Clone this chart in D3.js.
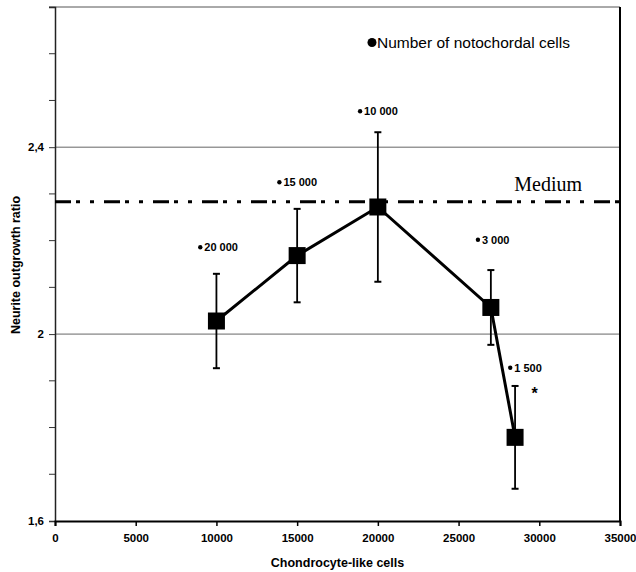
<!DOCTYPE html>
<html>
<head>
<meta charset="utf-8">
<script src="https://cdn.jsdelivr.net/npm/d3@7"></script>
<style>
  body { margin: 0; background: #fff; }
  text { font-family: "Liberation Sans", Arial, sans-serif; }
</style>
</head>
<body>
<div id="screen"></div>
<script>
var width = 636;
var height = 572;
var margin = {top: 7, right: 16, bottom: 51, left: 55};

// data
var cellCounts = [10000, 15000, 20000, 27000, 28500];
var ratios = [2.028, 2.168, 2.272, 2.057, 1.779];
var errors = [0.101, 0.100, 0.160, 0.080, 0.110];
var notochordLabels = ["20 000", "15 000", "10 000", "3 000", "1 500"];
var notochordLabelX = [9000, 13900, 18900, 26200, 28200];
var notochordLabelY = [2.186, 2.325, 2.477, 2.202, 1.928];
var mediumValue = 2.283;
var xTicks = [0, 5000, 10000, 15000, 20000, 25000, 30000, 35000];
var yMajorTicks = [1.6, 2, 2.4];
var yMinorTicks = [1.7, 1.8, 1.9, 2.1, 2.2, 2.3, 2.5, 2.6, 2.7];
var yGridLines = [2, 2.4];

var svg = d3.select("#screen").append("svg")
    .attr("width", width).attr("height", height);

var x = d3.scaleLinear().domain([0, 35000]).range([margin.left, width - margin.right]);
var y = d3.scaleLinear().domain([1.6, 2.7]).range([height - margin.bottom, margin.top]);

// frame + gridlines
svg.append("line")
    .attr("x1", x(0)).attr("x2", x(35000))
    .attr("y1", y(2.7)).attr("y2", y(2.7))
    .attr("stroke", "#555").attr("stroke-width", 1);

svg.selectAll(".grid").data(yGridLines).enter().append("line")
    .attr("class", "grid")
    .attr("x1", x(0)).attr("x2", x(35000))
    .attr("y1", d => y(d)).attr("y2", d => y(d))
    .attr("stroke", "#666").attr("stroke-width", 1);

svg.append("line")
    .attr("x1", x(35000)).attr("x2", x(35000))
    .attr("y1", y(2.7)).attr("y2", y(1.6))
    .attr("stroke", "#000").attr("stroke-width", 2);

// y axis
var yAxis = d3.axisLeft(y).tickValues(yMajorTicks)
    .tickFormat(d => d3.format(".1f")(d).replace(".0", "").replace(".", ","))
    .tickSize(6).tickPadding(5);
var gy = svg.append("g").attr("transform", "translate(" + x(0) + ",0)").call(yAxis);
gy.select(".domain").attr("stroke", "#222").attr("stroke-width", 1.5);
gy.selectAll(".tick line").attr("stroke", "#333");
gy.selectAll(".tick text").attr("font-size", 11.5).attr("font-weight", "bold").attr("fill", "#000");

svg.selectAll(".minor").data(yMinorTicks).enter().append("line")
    .attr("class", "minor")
    .attr("x1", x(0) - 6).attr("x2", x(0))
    .attr("y1", d => y(d)).attr("y2", d => y(d))
    .attr("stroke", "#333").attr("stroke-width", 1);

// x axis
var xAxis = d3.axisBottom(x).tickValues(xTicks).tickFormat(d3.format("d"))
    .tickSize(5).tickPadding(8);
var gx = svg.append("g").attr("transform", "translate(0," + y(1.6) + ")").call(xAxis);
gx.select(".domain").attr("stroke", "#000").attr("stroke-width", 2);
gx.selectAll(".tick line").attr("stroke", "#000").attr("stroke-width", 1.5);
gx.selectAll(".tick text").attr("font-size", 11.5).attr("font-weight", "bold").attr("fill", "#000");

// axis titles
svg.append("text")
    .attr("x", (x(0) + x(35000)) / 2).attr("y", 567)
    .attr("text-anchor", "middle")
    .attr("font-size", 12.5).attr("font-weight", "bold")
    .text("Chondrocyte-like cells");

svg.append("text")
    .attr("transform", "translate(20," + 265 + ") rotate(-90)")
    .attr("text-anchor", "middle")
    .attr("font-size", 12.5).attr("font-weight", "bold")
    .text("Neurite outgrowth ratio");

// medium line
svg.append("line")
    .attr("x1", x(0)).attr("x2", x(35000))
    .attr("y1", y(mediumValue)).attr("y2", y(mediumValue))
    .attr("stroke", "#000").attr("stroke-width", 3)
    .attr("stroke-dasharray", "16,5,4,10,4,10");

svg.append("text")
    .attr("x", 582).attr("y", 190.5)
    .attr("text-anchor", "end")
    .style("font-family", "'Liberation Serif', 'Times New Roman', serif")
    .attr("font-size", 20)
    .text("Medium");

// error bars
var points = cellCounts.map((c, i) => ({x: c, y: ratios[i], e: errors[i]}));

svg.selectAll(".err").data(points).enter().append("line")
    .attr("class", "err")
    .attr("x1", d => x(d.x)).attr("x2", d => x(d.x))
    .attr("y1", d => y(d.y + d.e)).attr("y2", d => y(d.y - d.e))
    .attr("stroke", "#000").attr("stroke-width", 1.8);

svg.selectAll(".capTop").data(points).enter().append("line")
    .attr("x1", d => x(d.x) - 3.5).attr("x2", d => x(d.x) + 3.5)
    .attr("y1", d => y(d.y + d.e)).attr("y2", d => y(d.y + d.e))
    .attr("stroke", "#000").attr("stroke-width", 2);

svg.selectAll(".capBot").data(points).enter().append("line")
    .attr("x1", d => x(d.x) - 3.5).attr("x2", d => x(d.x) + 3.5)
    .attr("y1", d => y(d.y - d.e)).attr("y2", d => y(d.y - d.e))
    .attr("stroke", "#000").attr("stroke-width", 2);

// connecting line
var line = d3.line().x(d => x(d.x)).y(d => y(d.y));
svg.append("path").datum(points)
    .attr("d", line)
    .attr("fill", "none").attr("stroke", "#000").attr("stroke-width", 3);

// squares
var sq = 17;
svg.selectAll(".sq").data(points).enter().append("rect")
    .attr("x", d => x(d.x) - sq / 2).attr("y", d => y(d.y) - sq / 2)
    .attr("width", sq).attr("height", sq)
    .attr("fill", "#000");

// notochordal cell labels
var labels = notochordLabels.map((t, i) => ({t: t, x: notochordLabelX[i], y: notochordLabelY[i]}));
var lg = svg.selectAll(".lab").data(labels).enter().append("g")
    .attr("transform", d => "translate(" + x(d.x) + "," + y(d.y) + ")");
lg.append("circle").attr("cx", 0).attr("cy", 0).attr("r", 2.2).attr("fill", "#000");
lg.append("text").attr("x", 4).attr("y", 4)
    .attr("font-size", 11).attr("font-weight", "bold")
    .text(d => d.t);

svg.append("text")
    .attr("x", x(29520)).attr("y", y(1.861))
    .attr("font-size", 16).attr("font-weight", "bold")
    .text("*");

// legend
svg.append("circle").attr("cx", 372).attr("cy", 42.5).attr("r", 4.5).attr("fill", "#000");
svg.append("text").attr("x", 377).attr("y", 48)
    .attr("font-size", 15.5)
    .text("Number of notochordal cells");
</script>
</body>
</html>
